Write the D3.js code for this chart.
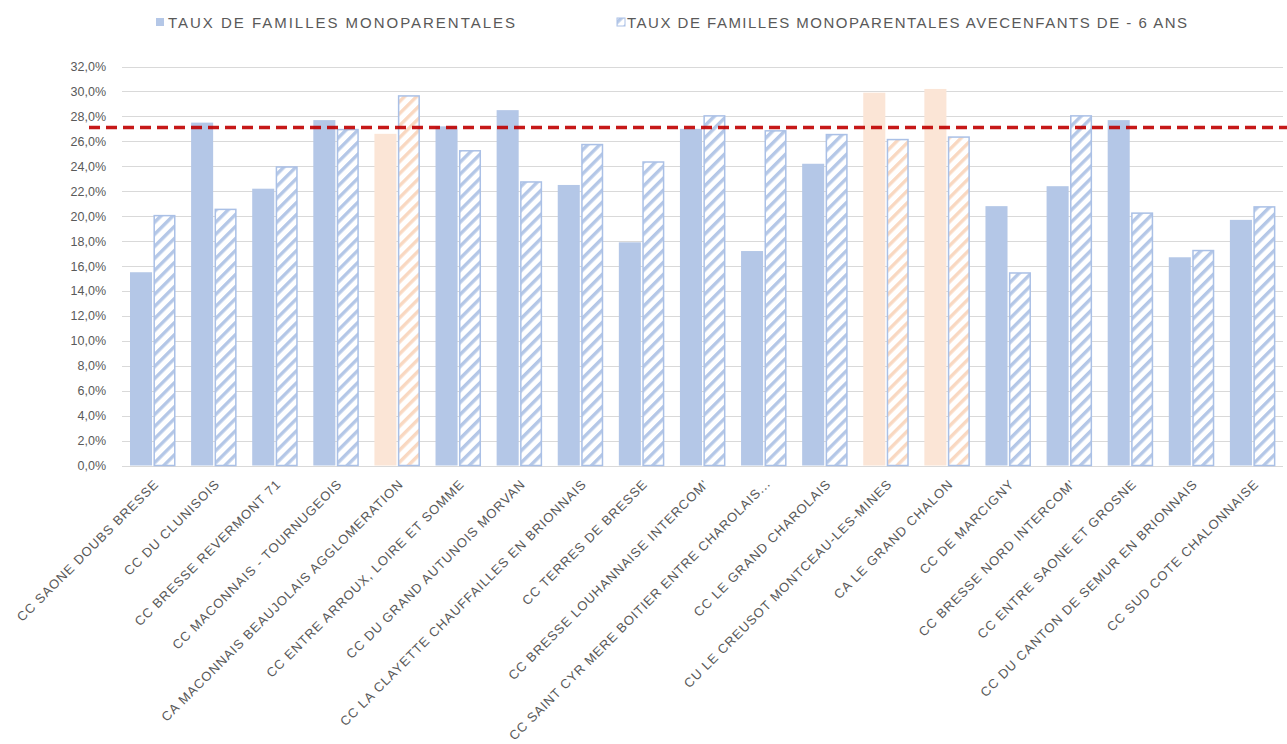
<!DOCTYPE html>
<html>
<head>
<meta charset="utf-8">
<script src="https://cdn.jsdelivr.net/npm/d3@7"></script>
<style>
  html, body { margin: 0; padding: 0; background: #fff; }
  svg { display: block; }
  text { font-family: "Liberation Sans", Arial, sans-serif; fill: #595959; }
</style>
</head>
<body>
<svg id="chart" width="1287" height="744"></svg>
<script>
// Communautés de communes / agglomérations
const categories = [
  "CC SAONE DOUBS BRESSE",
  "CC DU CLUNISOIS",
  "CC BRESSE REVERMONT 71",
  "CC MACONNAIS - TOURNUGEOIS",
  "CA MACONNAIS BEAUJOLAIS AGGLOMERATION",
  "CC ENTRE ARROUX, LOIRE ET SOMME",
  "CC DU GRAND AUTUNOIS MORVAN",
  "CC LA CLAYETTE CHAUFFAILLES EN BRIONNAIS",
  "CC TERRES DE BRESSE",
  "CC BRESSE LOUHANNAISE INTERCOM'",
  "CC SAINT CYR MERE BOITIER ENTRE CHAROLAIS...",
  "CC LE GRAND CHAROLAIS",
  "CU LE CREUSOT MONTCEAU-LES-MINES",
  "CA LE GRAND CHALON",
  "CC DE MARCIGNY",
  "CC BRESSE NORD INTERCOM'",
  "CC ENTRE SAONE ET GROSNE",
  "CC DU CANTON DE SEMUR EN BRIONNAIS",
  "CC SUD COTE CHALONNAISE"
];

// Taux de familles monoparentales (%)
const tauxMono = [15.5, 27.5, 22.2, 27.7, 26.6, 27.2, 28.5, 22.5, 17.9, 27.0,
                  17.2, 24.2, 29.9, 30.2, 20.8, 22.4, 27.7, 16.7, 19.7];

// Taux de familles monoparentales avec enfants de moins de 6 ans (%)
const tauxMonoMoins6 = [20.1, 20.6, 24.0, 27.0, 29.7, 25.3, 22.8, 25.8, 24.4, 28.1,
                        26.9, 26.6, 26.2, 26.4, 15.5, 28.1, 20.3, 17.3, 20.8];

// Agglomérations mises en évidence
const highlighted = [
  "CA MACONNAIS BEAUJOLAIS AGGLOMERATION",
  "CU LE CREUSOT MONTCEAU-LES-MINES",
  "CA LE GRAND CHALON"
];

const seriesNames = [
  "TAUX DE FAMILLES MONOPARENTALES",
  "TAUX DE FAMILLES MONOPARENTALES AVECENFANTS DE - 6 ANS"
];

const yTicks = [0, 2, 4, 6, 8, 10, 12, 14, 16, 18, 20, 22, 24, 26, 28, 30, 32];

// Valeur de référence (ligne pointillée)
const referenceValue = 27.1;

const blue = "#b4c7e7";
const blueEdge = "#aac0e6";
const orange = "#fbe5d6";
const orangeStripe = "#f9d8c1";

const W = 1287, H = 744;
const svg = d3.select("#chart");

// Hatch patterns
const defs = svg.append("defs");
function hatch(id, color) {
  const p = defs.append("pattern")
    .attr("id", id)
    .attr("patternUnits", "userSpaceOnUse")
    .attr("width", 8.5).attr("height", 8.5)
    .attr("patternTransform", "rotate(45)");
  p.append("rect").attr("width", 8.5).attr("height", 8.5).attr("fill", "#fff");
  p.append("rect").attr("x", 0).attr("y", 0).attr("width", 3.4).attr("height", 8.5).attr("fill", color);
}
hatch("hatchBlue", blue);
hatch("hatchOrange", orangeStripe);

const plot = { left: 122, right: 1283, top: 66.5, bottom: 465.5 };

const y = d3.scaleLinear().domain([0, 32]).range([plot.bottom, plot.top]);
const x0 = d3.scaleBand().domain(categories).range([plot.left, plot.right]);
const x1 = d3.scaleBand().domain([0, 1]).range([8, 53.5]).paddingInner(0.06);

// Gridlines
svg.append("g")
  .selectAll("line")
  .data(yTicks)
  .join("line")
  .attr("x1", plot.left).attr("x2", plot.right)
  .attr("y1", d => Math.round(y(d)) + 0.5).attr("y2", d => Math.round(y(d)) + 0.5)
  .attr("stroke", "#d9d9d9").attr("stroke-width", 1);

// Y axis labels
const yAxis = d3.axisLeft(y).tickValues(yTicks).tickSize(0).tickPadding(0)
  .tickFormat(d => d3.format(".1f")(d).replace(".", ",") + "%");
svg.append("g")
  .attr("transform", `translate(106,0)`)
  .call(yAxis)
  .call(g => g.select(".domain").remove())
  .call(g => g.selectAll("text")
    .style("font-size", "12.5px")
    .style("fill", "#595959")
    .attr("font-family", null));

// Bars
const groups = svg.append("g")
  .selectAll("g")
  .data(categories.map((c, i) => ({ c, i, hl: highlighted.includes(c) })))
  .join("g")
  .attr("transform", d => `translate(${x0(d.c)},0)`);

groups.append("rect")
  .attr("x", x1(0))
  .attr("width", x1.bandwidth())
  .attr("y", d => y(tauxMono[d.i]))
  .attr("height", d => y(0) - y(tauxMono[d.i]))
  .attr("fill", d => d.hl ? orange : blue);

groups.append("rect")
  .attr("x", x1(1) + 0.75)
  .attr("width", x1.bandwidth() - 1.5)
  .attr("y", d => y(tauxMonoMoins6[d.i]) + 0.75)
  .attr("height", d => y(0) - y(tauxMonoMoins6[d.i]) - 0.75)
  .attr("fill", d => d.hl ? "url(#hatchOrange)" : "url(#hatchBlue)")
  .attr("stroke", blueEdge)
  .attr("stroke-width", 1.5);

// Reference line
svg.append("line")
  .attr("x1", 89).attr("x2", W)
  .attr("y1", y(referenceValue)).attr("y2", y(referenceValue))
  .attr("stroke", "#c00000")
  .attr("stroke-width", 3.5)
  .attr("stroke-dasharray", "11,6")
  .attr("opacity", 0.9);

// X labels, rotated -45°, tightened when they would run past the bottom edge
const labelY = 485;
const maxLabelLen = (H - 3 - labelY) * Math.SQRT2;
svg.append("g")
  .selectAll("text")
  .data(categories)
  .join("text")
  .attr("transform", d => `translate(${x0(d) + x0.bandwidth() / 2 + 7},${labelY}) rotate(-45)`)
  .attr("text-anchor", "end")
  .style("font-size", "13px")
  .style("letter-spacing", "0.95px")
  .text(d => d)
  .each(function () {
    const len = this.getComputedTextLength();
    if (len > maxLabelLen) {
      d3.select(this)
        .style("letter-spacing", null)
        .attr("textLength", maxLabelLen)
        .attr("lengthAdjust", "spacing");
    }
  });

// Legend
const legend = svg.append("g");
const legendItems = [
  { name: seriesNames[0], x: 156, fill: blue, stroke: "none", tx: 168, len: 347 },
  { name: seriesNames[1], x: 617, fill: "url(#hatchBlue)", stroke: blueEdge, tx: 627, len: 560 }
];
legendItems.forEach(it => {
  legend.append("rect")
    .attr("x", it.x).attr("y", 18).attr("width", 8).attr("height", 8)
    .attr("fill", it.fill).attr("stroke", it.stroke);
  legend.append("text")
    .attr("x", it.tx).attr("y", 27.5)
    .attr("textLength", it.len)
    .attr("lengthAdjust", "spacing")
    .style("font-size", "15px")
    .text(it.name);
});
</script>
</body>
</html>
